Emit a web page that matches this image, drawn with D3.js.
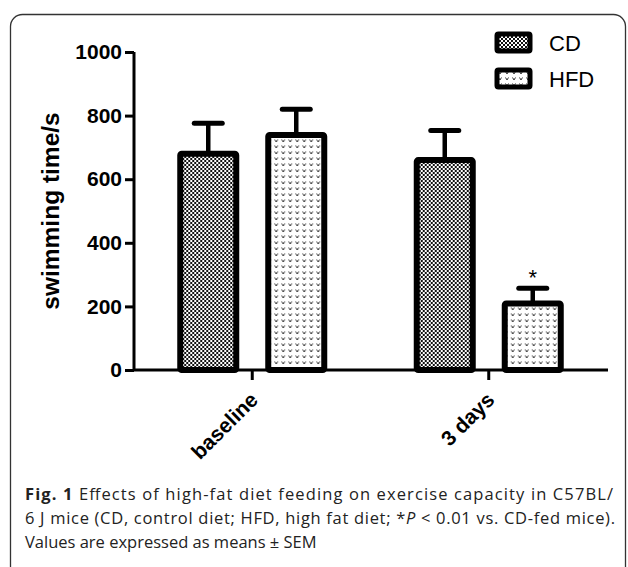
<!DOCTYPE html>
<html lang="en">
<head>
<meta charset="utf-8" />
<script src="https://d3js.org/d3.v7.min.js"></script>
<style>
    body { margin: 0; background: #fff; }
    svg text { font-family: Arial, 'Liberation Sans', sans-serif; }
    .caption text { font-family: 'Open Sans', sans-serif; }
</style>
</head>
<body>
<div id="chart"></div>
<script>
    // data
    var groups = ["baseline", "3 days"];
    var series = ["CD", "HFD"];
    var meanCD = [680, 660];
    var meanHFD = [739, 209];
    var semCD = [96, 93];
    var semHFD = [81, 48];
    var yTicks = [0, 200, 400, 600, 800, 1000];
    var stars = ["", "*"]; // HFD only

    var W = 628, H = 567;
    var svg = d3.select("#chart").append("svg")
        .attr("width", W).attr("height", H);

    var defs = svg.append("defs");

    // checkerboard fill for CD
    var pCD = defs.append("pattern").attr("id", "patCD")
        .attr("patternUnits", "userSpaceOnUse").attr("width", 4).attr("height", 4);
    pCD.append("rect").attr("width", 4).attr("height", 4).attr("fill", "#fff");
    pCD.append("rect").attr("width", 2).attr("height", 2).attr("fill", "#111");
    pCD.append("rect").attr("x", 2).attr("y", 2).attr("width", 2).attr("height", 2).attr("fill", "#111");

    // little "v" marks for HFD
    var pHFD = defs.append("pattern").attr("id", "patHFD")
        .attr("patternUnits", "userSpaceOnUse").attr("width", 7).attr("height", 6);
    pHFD.append("rect").attr("width", 7).attr("height", 6).attr("fill", "#fff");
    pHFD.append("path").attr("d", "M1.5,1.5 L3,4 L4.5,1.5")
        .attr("fill", "none").attr("stroke", "#333").attr("stroke-width", 1);

    // frame
    svg.append("rect")
        .attr("x", 10.5).attr("y", 14.5)
        .attr("width", 615).attr("height", 600)
        .attr("rx", 12)
        .attr("fill", "none").attr("stroke", "#333").attr("stroke-width", 1.3);

    var y = d3.scaleLinear().domain([0, 1000]).range([370, 52]);
    var x0 = d3.scaleBand().domain(groups).range([134, 607]);
    var x1 = d3.scaleBand().domain(series).range([-88, 88])
        .paddingInner(0.3636).paddingOuter(0.1818);
    var fills = { CD: "url(#patCD)", HFD: "url(#patHFD)" };

    var rows = groups.map(function (g, i) {
        return [
            { group: g, key: "CD", mean: meanCD[i], sem: semCD[i], star: "" },
            { group: g, key: "HFD", mean: meanHFD[i], sem: semHFD[i], star: stars[i] }
        ];
    });

    var gGroups = svg.selectAll("g.grp").data(rows).enter().append("g")
        .attr("class", "grp")
        .attr("transform", function (d, i) { return "translate(" + (x0(groups[i]) + x0.bandwidth() / 2) + ",0)"; });

    var bars = gGroups.selectAll("g.bar").data(function (d) { return d; }).enter().append("g").attr("class", "bar");

    // error bars (upper only)
    bars.append("line")
        .attr("x1", function (d) { return x1(d.key) + x1.bandwidth() / 2; })
        .attr("x2", function (d) { return x1(d.key) + x1.bandwidth() / 2; })
        .attr("y1", function (d) { return y(d.mean); })
        .attr("y2", function (d) { return y(d.mean + d.sem); })
        .attr("stroke", "#000").attr("stroke-width", 4.5);
    bars.append("line")
        .attr("x1", function (d) { return x1(d.key) + x1.bandwidth() / 2 - 14; })
        .attr("x2", function (d) { return x1(d.key) + x1.bandwidth() / 2 + 14; })
        .attr("y1", function (d) { return y(d.mean + d.sem); })
        .attr("y2", function (d) { return y(d.mean + d.sem); })
        .attr("stroke", "#000").attr("stroke-width", 5).attr("stroke-linecap", "round");

    bars.append("rect")
        .attr("x", function (d) { return x1(d.key); })
        .attr("y", function (d) { return y(d.mean); })
        .attr("width", x1.bandwidth())
        .attr("height", function (d) { return y(0) - y(d.mean); })
        .attr("rx", 1.5)
        .attr("fill", function (d) { return fills[d.key]; })
        .attr("stroke", "#000").attr("stroke-width", 6);

    bars.append("text")
        .attr("x", function (d) { return x1(d.key) + x1.bandwidth() / 2; })
        .attr("y", function (d) { return y(d.mean + d.sem) - 3; })
        .attr("text-anchor", "middle")
        .attr("font-size", 22)
        .text(function (d) { return d.star; });

    // y axis
    var yAxis = svg.append("g").attr("transform", "translate(134,0)")
        .call(d3.axisLeft(y).tickValues(yTicks).tickSize(9).tickPadding(3).tickFormat(d3.format("d")));
    yAxis.select(".domain").attr("stroke-width", 3).attr("d", "M0," + y(1000) + "V" + y(0));
    yAxis.selectAll(".tick line").attr("stroke-width", 3);
    yAxis.selectAll(".tick text").attr("font-size", 21).attr("font-weight", "bold")
        .attr("font-family", "Arial, 'Liberation Sans', sans-serif").attr("fill", "#000");

    // x axis
    var xAxis = svg.append("g").attr("transform", "translate(0," + y(0) + ")")
        .call(d3.axisBottom(x0).tickSize(10).tickPadding(8));
    xAxis.select(".domain").attr("stroke-width", 3).attr("d", "M134,0H608");
    xAxis.selectAll(".tick line").attr("stroke-width", 3);
    xAxis.selectAll(".tick text")
        .attr("font-size", 21).attr("font-weight", "bold")
        .attr("font-family", "Arial, 'Liberation Sans', sans-serif").attr("fill", "#000")
        .attr("text-anchor", "end")
        .attr("dy", "0.7em")
        .attr("transform", "translate(-16,8) rotate(-45)");

    // y title
    svg.append("text")
        .attr("transform", "translate(59,211) rotate(-90)")
        .attr("text-anchor", "middle")
        .attr("font-size", 24.5).attr("font-weight", "bold")
        .text("swimming time/s");

    // legend
    var leg = svg.selectAll("g.leg").data(series).enter().append("g")
        .attr("class", "leg")
        .attr("transform", function (d, i) { return "translate(497," + (34 + i * 36) + ")"; });
    leg.append("rect")
        .attr("width", 33).attr("height", 17).attr("rx", 1.5)
        .attr("fill", function (d) { return fills[d]; })
        .attr("stroke", "#000").attr("stroke-width", 5);
    leg.append("text")
        .attr("x", 52).attr("y", 17)
        .attr("font-size", 22)
        .text(function (d) { return d; });

    // caption (first two lines are justified in the original)
    var cap = svg.append("g").attr("class", "caption");
    var l1 = cap.append("text").attr("x", 25).attr("y", 500).attr("font-size", 16.5).attr("fill", "#222")
        .attr("textLength", 588).attr("lengthAdjust", "spacing");
    l1.append("tspan").attr("font-weight", "bold").text("Fig. 1");
    l1.append("tspan").text(" Effects of high-fat diet feeding on exercise capacity in C57BL/");
    var l2 = cap.append("text").attr("x", 25).attr("y", 524).attr("font-size", 16.5).attr("fill", "#222")
        .attr("textLength", 590).attr("lengthAdjust", "spacing");
    l2.append("tspan").text("6 J mice (CD, control diet; HFD, high fat diet; *");
    l2.append("tspan").attr("font-style", "italic").text("P");
    l2.append("tspan").text(" < 0.01 vs. CD-fed mice).");
    cap.append("text").attr("x", 25).attr("y", 548).attr("font-size", 16.5).attr("fill", "#222")
        .text("Values are expressed as means \u00b1 SEM");
</script>
</body>
</html>
